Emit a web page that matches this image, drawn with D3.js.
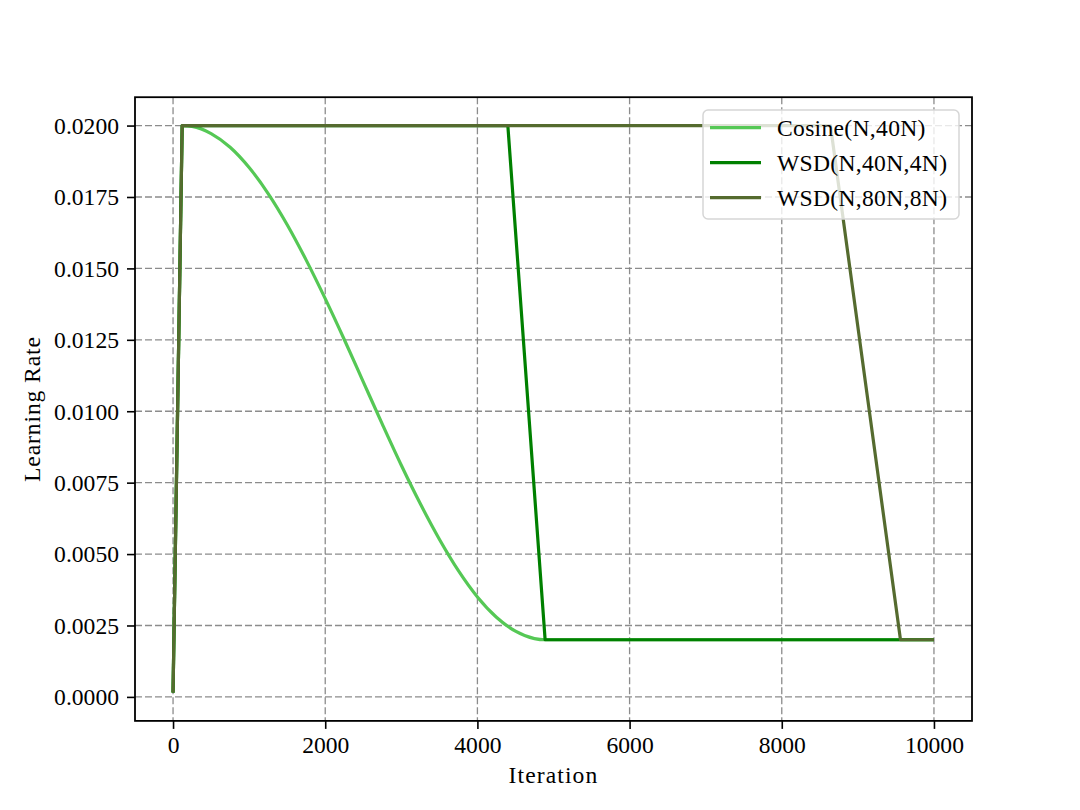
<!DOCTYPE html>
<html>
<head>
<meta charset="utf-8">
<script src="https://cdn.jsdelivr.net/npm/d3@7"></script>
<style>
  html, body { margin: 0; padding: 0; background: #fff; }
  svg { display: block; }
  text { font-family: "Liberation Serif", "DejaVu Serif", serif; fill: #000; }
</style>
</head>
<body>
<svg id="chart" width="1080" height="810"></svg>
<script>
// ---- data ----
const seriesNames = ["Cosine(N,40N)", "WSD(N,40N,4N)", "WSD(N,80N,8N)"];
const seriesColors = ["#55c855", "#008000", "#556b2f"];

// Cosine schedule: linear warm-up, then cosine decay, then flat floor
const cosWarmIter = [0, 120];
const cosWarmLR   = [0.00015, 0.0200];
const cosIter = [120, 250, 500, 750, 1000, 1250, 1500, 1750, 2000, 2250, 2500, 2750,
                 3000, 3250, 3500, 3750, 4000, 4250, 4500, 4750, 4890, 10000];
const cosLR   = [0.0200, 0.01997, 0.01972, 0.01924, 0.01853, 0.01762, 0.01653, 0.01529,
                 0.01394, 0.01251, 0.01103, 0.00955, 0.00811, 0.00676, 0.00552, 0.00442,
                 0.00350, 0.00279, 0.00230, 0.00204, 0.0020, 0.0020];

// WSD(N,40N,4N)
const wsd1Iter = [0, 120, 4400, 4890, 10000];
const wsd1LR   = [0.00015, 0.0200, 0.0200, 0.0020, 0.0020];

// WSD(N,80N,8N)
const wsd2Iter = [0, 120, 8640, 9560, 10000];
const wsd2LR   = [0.00015, 0.0200, 0.0200, 0.0020, 0.0020];

const xTicks = [0, 2000, 4000, 6000, 8000, 10000];
const yTicks = [0.0000, 0.0025, 0.0050, 0.0075, 0.0100, 0.0125, 0.0150, 0.0175, 0.0200];

// ---- layout ----
const svg = d3.select("#chart");
const L = 135, R = 972, T = 97.2, B = 720.9;
const x = d3.scaleLinear().domain([-500, 10500]).range([L, R]);
const y = d3.scaleLinear().domain([-0.00084, 0.020993]).range([B, T]);

const zip = (xs, ys) => xs.map((v, i) => [v, ys[i]]);

// grid
const grid = svg.append("g");
grid.selectAll("line.gx").data(xTicks).join("line")
  .attr("x1", d => x(d)).attr("x2", d => x(d)).attr("y1", T).attr("y2", B)
  .attr("stroke", "#808080").attr("stroke-width", 1.3).attr("stroke-dasharray", "7,3").attr("opacity", 0.9);
grid.selectAll("line.gy").data(yTicks).join("line")
  .attr("y1", d => y(d)).attr("y2", d => y(d)).attr("x1", L).attr("x2", R)
  .attr("stroke", "#808080").attr("stroke-width", 1.3).attr("stroke-dasharray", "7,3").attr("opacity", 0.9);

// lines
const lineLin = d3.line().x(d => x(d[0])).y(d => y(d[1]));
const lineSmooth = d3.line().x(d => x(d[0])).y(d => y(d[1])).curve(d3.curveMonotoneX);
const plot = svg.append("g").attr("fill", "none").attr("stroke-width", 3.2).attr("stroke-linejoin", "round");

plot.append("path").attr("d", lineLin(zip(cosWarmIter, cosWarmLR))).attr("stroke", seriesColors[0]);
plot.append("path").attr("d", lineSmooth(zip(cosIter, cosLR))).attr("stroke", seriesColors[0]);
plot.append("path").attr("d", lineLin(zip(wsd1Iter, wsd1LR))).attr("stroke", seriesColors[1]);
plot.append("path").attr("d", lineLin(zip(wsd2Iter, wsd2LR))).attr("stroke", seriesColors[2]);

// axes
const xAxis = d3.axisBottom(x).tickValues(xTicks).tickSize(8).tickPadding(6).tickFormat(d3.format("d"));
const yAxis = d3.axisLeft(y).tickValues(yTicks).tickSize(8).tickPadding(8).tickFormat(d3.format(".4f"));

const gx = svg.append("g").attr("transform", `translate(0,${B})`).call(xAxis);
const gy = svg.append("g").attr("transform", `translate(${L},0)`).call(yAxis);
[gx, gy].forEach(g => {
  g.select(".domain").remove();
  g.selectAll(".tick line").attr("stroke", "#000").attr("stroke-width", 1.6);
  g.selectAll(".tick text").attr("font-family", "Liberation Serif, DejaVu Serif, serif").attr("font-size", 23.6).attr("fill", "#000");
});
gx.selectAll(".tick text").attr("dy", null).attr("y", 32);
gy.selectAll(".tick text").attr("dy", "0.33em");

// frame
svg.append("rect").attr("x", L).attr("y", T).attr("width", R - L).attr("height", B - T)
  .attr("fill", "none").attr("stroke", "#000").attr("stroke-width", 1.8);

// axis labels
svg.append("text").attr("x", (L + R) / 2).attr("y", 783).attr("text-anchor", "middle")
  .attr("font-size", 23.6).attr("letter-spacing", 1.1).text("Iteration");
svg.append("text").attr("transform", `translate(40,${(T + B) / 2}) rotate(-90)`)
  .attr("text-anchor", "middle").attr("font-size", 23.6).attr("letter-spacing", 0.9).text("Learning Rate");

// legend
const lg = svg.append("g");
lg.append("rect").attr("x", 703).attr("y", 110).attr("width", 256).attr("height", 109).attr("rx", 5)
  .attr("fill", "#fff").attr("fill-opacity", 0.8).attr("stroke", "#d6d6d6").attr("stroke-width", 1.5);
const rowY = [127.7, 162.7, 197.7];
seriesNames.forEach((name, i) => {
  lg.append("line").attr("x1", 710).attr("x2", 761).attr("y1", rowY[i]).attr("y2", rowY[i])
    .attr("stroke", seriesColors[i]).attr("stroke-width", 3.2);
  lg.append("text").attr("x", 777).attr("y", rowY[i] + 8).attr("font-size", 23.6)
    .attr("letter-spacing", 0.3).text(name);
});
</script>
</body>
</html>
